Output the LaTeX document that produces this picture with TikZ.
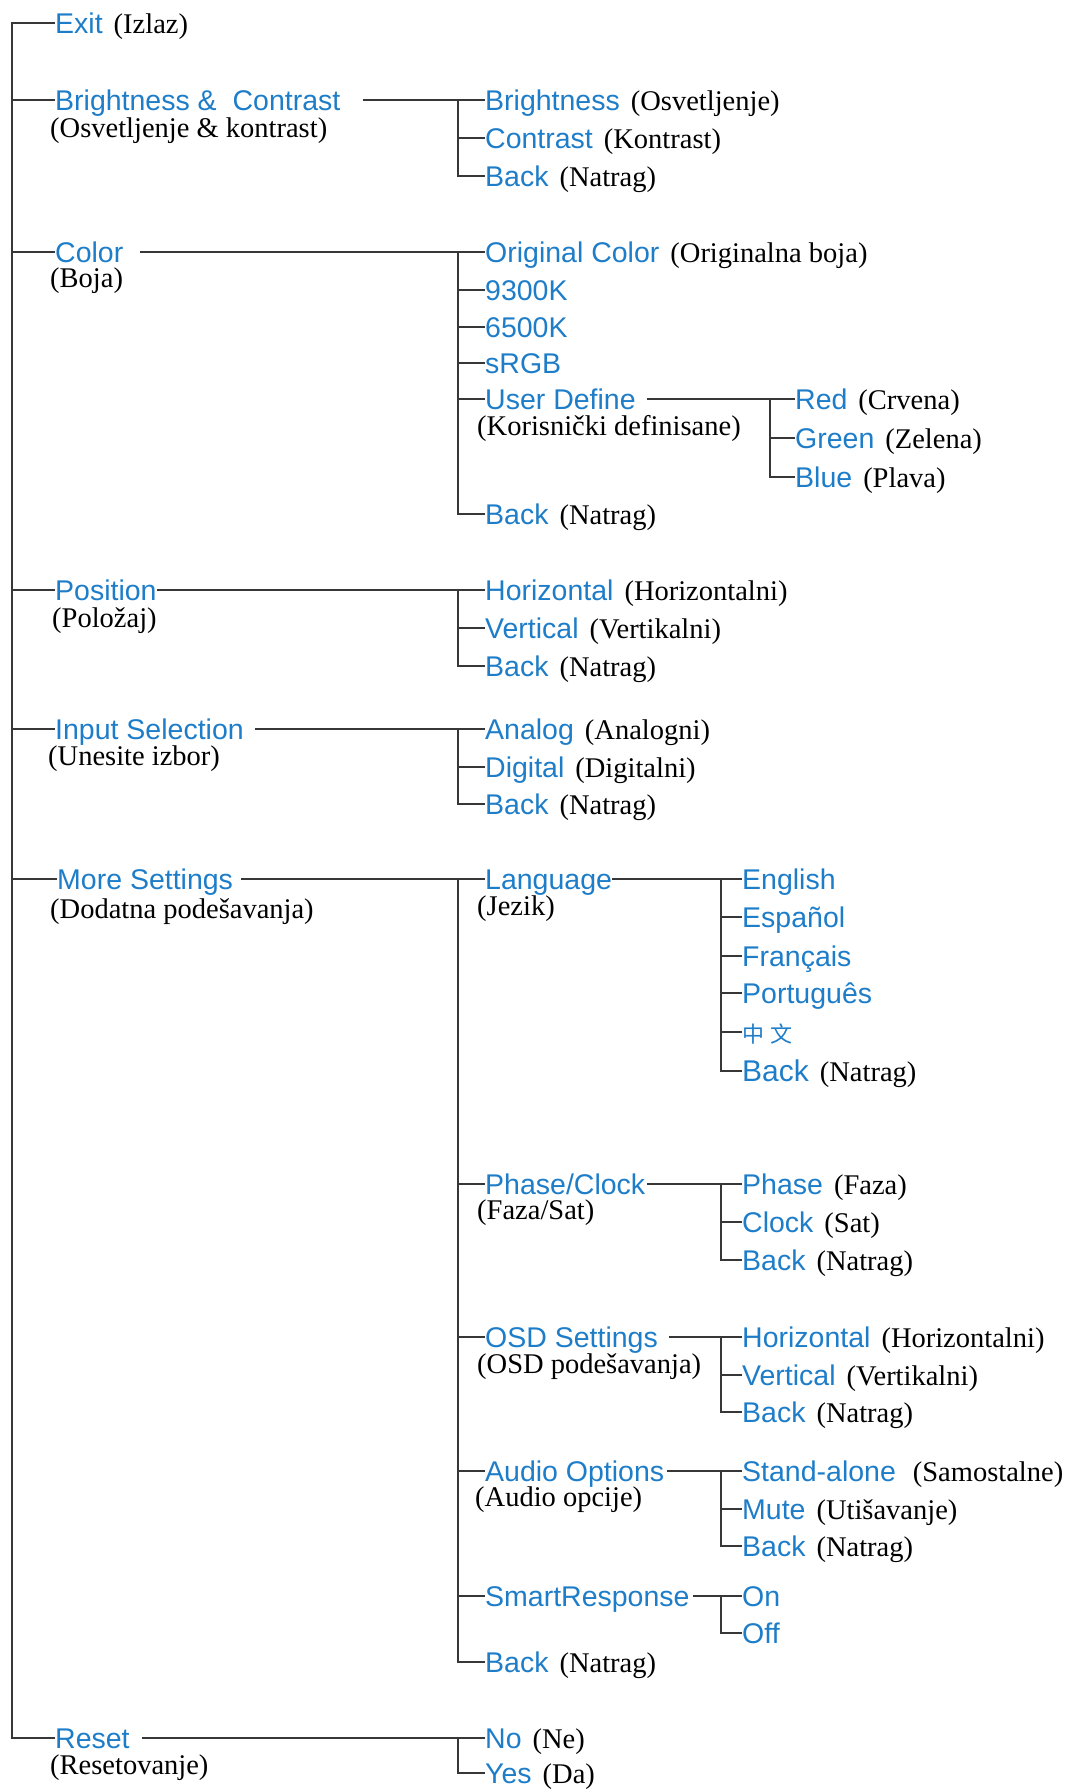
\documentclass[tikz,border=0pt]{standalone}
\usepackage{fontspec}
\setmainfont{Liberation Serif}
\newfontfamily\arialf{Liberation Sans}
\newfontfamily\cjkf{Noto Sans CJK SC}
\definecolor{menublue}{RGB}{30,125,200}
\definecolor{linegray}{RGB}{55,55,55}
\newcommand{\trn}[1]{\hspace{11pt}{\normalfont\color{black}\fontsize{28.5}{31}\selectfont #1}}
\tikzset{
  item/.style={anchor=west, inner sep=0pt, text height=20pt, text depth=0pt,
    font=\arialf\fontsize{28.5}{32}\selectfont, text=menublue},
  subt/.style={anchor=west, inner sep=0pt, text height=18pt, text depth=0pt,
    font=\normalfont\fontsize{28.5}{31}\selectfont, text=black},
  link/.style={draw=linegray, line width=2.5pt},
}
\begin{document}
\begin{tikzpicture}[x=1pt,y=-1pt]
\useasboundingbox (0,0) rectangle (1072,1789);
% trunk coordinates
\coordinate (mt) at (12,23);
\coordinate (mb) at (12,1738);
\coordinate (l2) at (458,0);
\coordinate (l3a) at (770,0);
\coordinate (l3b) at (721,0);
% level 1
\node[item] (exit) at (55,23) {Exit\trn{(Izlaz)}};
\node[item] (bc) at (55,100) {Brightness \&\ \ Contrast};
\node[subt] (bcs) at (50,128) {(Osvetljenje \& kontrast)};
\node[item] (color) at (55,252) {Color};
\node[subt] (colors) at (50,278) {(Boja)};
\node[item] (pos) at (55,590) {Position};
\node[subt] (poss) at (52,618) {(Položaj)};
\node[item] (inp) at (55,729) {Input Selection};
\node[subt] (inps) at (48,756) {(Unesite izbor)};
\node[item] (more) at (57,879) {More Settings};
\node[subt] (mores) at (50,909) {(Dodatna podešavanja)};
\node[item] (reset) at (55,1738) {Reset};
\node[subt] (resets) at (50,1765) {(Resetovanje)};
% level 2
\node[item] (bri) at (485,100) {Brightness\trn{(Osvetljenje)}};
\node[item] (con) at (485,138) {Contrast\trn{(Kontrast)}};
\node[item] (bcback) at (485,176) {Back\trn{(Natrag)}};
\node[item] (orig) at (485,252) {Original Color\trn{(Originalna boja)}};
\node[item] (k93) at (485,290) {9300K};
\node[item] (k65) at (485,327) {6500K};
\node[item] (srgb) at (485,363) {sRGB};
\node[item] (ud) at (485,399) {User Define};
\node[subt] (uds) at (477,426) {(Korisnički definisane)};
\node[item] (colback) at (485,514) {Back\trn{(Natrag)}};
\node[item] (red) at (795,399) {Red\trn{(Crvena)}};
\node[item] (green) at (795,438) {Green\trn{(Zelena)}};
\node[item] (blue) at (795,477) {Blue\trn{(Plava)}};
\node[item] (hor) at (485,590) {Horizontal\trn{(Horizontalni)}};
\node[item] (ver) at (485,628) {Vertical\trn{(Vertikalni)}};
\node[item] (posback) at (485,666) {Back\trn{(Natrag)}};
\node[item] (ana) at (485,729) {Analog\trn{(Analogni)}};
\node[item] (dig) at (485,767) {Digital\trn{(Digitalni)}};
\node[item] (inpback) at (485,804) {Back\trn{(Natrag)}};
\node[item] (lang) at (485,879) {Language};
\node[subt] (langs) at (477,906) {(Jezik)};
\node[item] (phc) at (485,1184) {Phase/Clock};
\node[subt] (phcs) at (477,1210) {(Faza/Sat)};
\node[item] (osd) at (485,1337) {OSD Settings};
\node[subt] (osds) at (477,1364) {(OSD podešavanja)};
\node[item] (aud) at (485,1471) {Audio Options};
\node[subt] (auds) at (475,1497) {(Audio opcije)};
\node[item] (smr) at (485,1596) {SmartResponse};
\node[item] (moreback) at (485,1662) {Back\trn{(Natrag)}};
\node[item] (no) at (485,1738) {No\trn{(Ne)}};
\node[item] (yes) at (485,1773) {Yes\trn{(Da)}};
% level 3
\node[item] (eng) at (742,879) {English};
\node[item] (esp) at (742,917) {Español};
\node[item] (fra) at (742,956) {Français};
\node[item] (por) at (742,993) {Português};
\node[item] (zh) at (742,1032) {\cjkf\fontsize{22}{26}\selectfont 中\hspace{6pt}文};
\node[item] (langback) at (742,1071) {\fontsize{30}{34}\selectfont Back\trn{(Natrag)}};
\node[item] (pha) at (742,1184) {Phase\trn{(Faza)}};
\node[item] (clk) at (742,1222) {Clock\trn{(Sat)}};
\node[item] (phcback) at (742,1260) {Back\trn{(Natrag)}};
\node[item] (ohor) at (742,1337) {Horizontal\trn{(Horizontalni)}};
\node[item] (over) at (742,1375) {Vertical\trn{(Vertikalni)}};
\node[item] (osdback) at (742,1412) {Back\trn{(Natrag)}};
\node[item] (sta) at (742,1471) {Stand-alone\trn{\hspace{6pt}(Samostalne)}};
\node[item] (mute) at (742,1509) {Mute\trn{(Utišavanje)}};
\node[item] (audback) at (742,1546) {Back\trn{(Natrag)}};
\node[item] (on) at (742,1596) {On};
\node[item] (off) at (742,1633) {Off};
% main trunk
\draw[link] (exit.west) -- (mt) -- (mb) -- (reset.west);
\foreach \n in {bc,color,pos,inp,more} \draw[link] (\n.west) -- (\n.west -| mt);
% level 2 connectors
\draw[link, shorten <=22pt] (bc.east) -- (bri.west);
\draw[link] (bri.west -| l2) |- (bcback.west);
\draw[link] (con.west -| l2) -- (con.west);
\draw[link, shorten <=16pt] (color.east) -- (orig.west);
\draw[link] (orig.west -| l2) |- (colback.west);
\foreach \n in {k93,k65,srgb,ud} \draw[link] (\n.west -| l2) -- (\n.west);
\draw[link, shorten <=11pt] (ud.east) -- (red.west);
\draw[link] (red.west -| l3a) |- (blue.west);
\draw[link] (green.west -| l3a) -- (green.west);
\draw[link] (pos.east) -- (hor.west);
\draw[link] (hor.west -| l2) |- (posback.west);
\draw[link] (ver.west -| l2) -- (ver.west);
\draw[link, shorten <=11pt] (inp.east) -- (ana.west);
\draw[link] (ana.west -| l2) |- (inpback.west);
\draw[link] (dig.west -| l2) -- (dig.west);
\draw[link, shorten <=8pt] (more.east) -- (lang.west);
\draw[link] (lang.west -| l2) |- (moreback.west);
\foreach \n in {phc,osd,aud,smr} \draw[link] (\n.west -| l2) -- (\n.west);
\draw[link, shorten <=12pt] (reset.east) -- (no.west);
\draw[link] (no.west -| l2) |- (yes.west);
% level 3 connectors
\draw[link] (lang.east) -- (eng.west);
\draw[link] (eng.west -| l3b) |- (langback.west);
\foreach \n in {esp,fra,por,zh} \draw[link] (\n.west -| l3b) -- (\n.west);
\draw[link, shorten <=2pt] (phc.east) -- (pha.west);
\draw[link] (pha.west -| l3b) |- (phcback.west);
\draw[link] (clk.west -| l3b) -- (clk.west);
\draw[link, shorten <=11pt] (osd.east) -- (ohor.west);
\draw[link] (ohor.west -| l3b) |- (osdback.west);
\draw[link] (over.west -| l3b) -- (over.west);
\draw[link, shorten <=3pt] (aud.east) -- (sta.west);
\draw[link] (sta.west -| l3b) |- (audback.west);
\draw[link] (mute.west -| l3b) -- (mute.west);
\draw[link, shorten <=3pt] (smr.east) -- (on.west);
\draw[link] (on.west -| l3b) |- (off.west);
\end{tikzpicture}
\end{document}
